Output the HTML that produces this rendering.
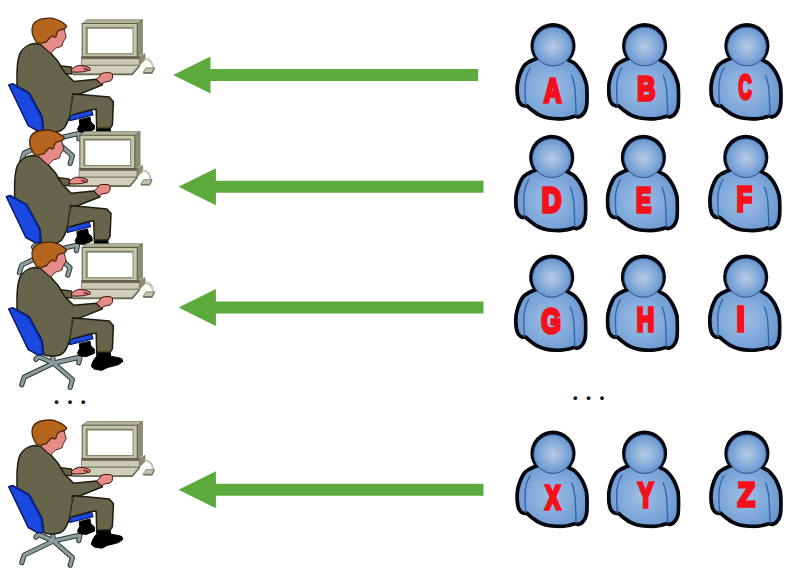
<!DOCTYPE html>
<html><head><meta charset="utf-8"><title>Users to operators</title>
<style>
html,body{margin:0;padding:0;background:#fff;}
body{width:800px;height:573px;overflow:hidden;position:relative;}
svg{position:absolute;left:0;top:0;display:block;}
.lt{font-family:"Liberation Sans",sans-serif;font-weight:bold;font-size:36px;fill:#f5101c;stroke:#f5101c;stroke-width:3.6px;stroke-linejoin:miter;}
.dots{position:absolute;font-family:"Liberation Serif",serif;font-size:32px;line-height:32px;color:#111;letter-spacing:5.4px;white-space:nowrap;}
</style></head>
<body>
<svg width="800" height="573" viewBox="0 0 800 573">
<defs>
<radialGradient id="gh" cx="0.5" cy="0.5" r="0.55"><stop offset="0" stop-color="#b8cae6"/><stop offset="0.5" stop-color="#8cafdb"/><stop offset="1" stop-color="#6092cc"/></radialGradient>
<radialGradient id="gb" cx="0.48" cy="0.55" r="0.6"><stop offset="0" stop-color="#a0bfe5"/><stop offset="0.55" stop-color="#7da7d9"/><stop offset="1" stop-color="#5d8fcb"/></radialGradient>

<g id="man" stroke-linejoin="round" stroke-linecap="round">
  <!-- chair base -->
  <g fill="none" stroke="#2e3838" stroke-width="5.2">
    <path d="M53.5,541 L24.2,555 L21.8,562.6"/><path d="M53.5,541 L72.4,557.5 L70.2,565.2"/>
    <path d="M53.5,541 L80,535 L78.8,540.6"/><path d="M53.5,541 L38.5,534.5 L35.8,537.2"/><path d="M52.3,532 L53.5,541"/>
  </g>
  <g fill="none" stroke="#8c9d9d" stroke-width="3.2">
    <path d="M53.5,541 L24.2,555 L21.8,562.6"/><path d="M53.5,541 L72.4,557.5 L70.2,565.2"/>
    <path d="M53.5,541 L80,535 L78.8,540.6"/><path d="M53.5,541 L38.5,534.5 L35.8,537.2"/><path d="M52.3,532 L53.5,541"/>
  </g>
  <!-- far leg + shoe -->
  <path d="M79.6,521.5 L90,519 L90.8,523.8 L94.3,526.8 L94.6,531 L86.2,534.5 L78.9,533.5 L77.5,530.9 L79.6,526.6 Z" fill="#000" stroke="#000" stroke-width="1"/>
  <!-- seat -->
  <path d="M68.4,517.3 L91.5,511.9 L93,516.6 L69.9,522.5 Z" fill="#1c48e2" stroke="#07186a" stroke-width="1.2"/>
  <!-- near shoe -->
  <path d="M96.7,531 L110.3,530 L110.5,534 C115,535 120,535.6 121.8,536.6 L122.9,539.25 L118.7,542.4 C114,544 110,544.6 107.2,545.5 L101.9,548.2 L94.6,547.1 L91.4,544.5 C92,540 94,537 96.7,534 Z" fill="#000" stroke="#000" stroke-width="1"/>
  <!-- torso + near arm -->
  <path d="M34.1,445.4 C29,446 23,449.5 20,455 C17.6,461 16.8,470 17,480 L17,488.3 L29,494.5 L42,518.5 L43.6,532.3 C45,533.2 47,533.7 48.4,533.7 C52,534 57,534 60,532.8 C63,531.5 64.8,529.5 65.7,527.5 C67,525 68,523 68.6,520.8 L70.5,517 C71.5,510 72,503 72.2,499.6 L73.6,496.4 L80.6,495.5 L102.5,486.7 L96.4,481 L73.6,483.2 L67.5,477.1 L61.4,468.8 L57.9,463.1 L50.8,455 L48,452.7 L41,446.4 Z" fill="#66644a" stroke="#1c1c10" stroke-width="1.5"/>
  <!-- near leg -->
  <path d="M72.6,495.8 L86.2,496.8 L109.25,498.9 L113.4,503.6 L112.4,526.7 L110.3,529.8 L96.7,530.3 L96.15,511 L91.4,511.5 L70.3,517.2 Z" fill="#66644a" stroke="#1c1c10" stroke-width="1.5"/>
  <path d="M72.9,498 L71,515.6" fill="none" stroke="#66644a" stroke-width="2.4"/>
  <path d="M73.6,496.4 C71.5,503 71.5,510 69.5,517.5" fill="none" stroke="#1c1c10" stroke-width="0.9"/>
  <!-- chair back -->
  <path d="M8.7,486.8 L12.6,485.5 L29.1,494.6 L42,518.5 L43.6,532.3 L37.9,532.8 L28.25,527.5 Z" fill="#1c48e2" stroke="#07186a" stroke-width="1.5"/>
  <path d="M12.6,485.5 L29.1,494.6 L42,518.5 L43.6,532.3 L41.9,532.5 L40.6,519.2 L28,495.8 L11,486.2 Z" fill="#0b2a9c" stroke="none"/>
  <!-- far arm -->
  <path d="M60.5,467.6 L71,468.8 L71.9,469.7 L71.9,475.8 L68.8,475.4 L65.5,475.6 Z" fill="#66644a" stroke="#1c1c10" stroke-width="1.3"/>
  <!-- computer -->
  <path d="M82,467 L139.4,467 L131.9,475.6 L72.5,475.6 Z" fill="#cfcfba" stroke="#6a6a52" stroke-width="0.8"/>
  <path d="M72.5,475.6 L131.9,475.6 L139.4,467 L140.6,467.6 L132.6,477 L72.5,477 Z" fill="#6a6a52" stroke="none"/>
  <path d="M139.4,458.5 L145,455.5 L145,461.5 L139.4,467 Z" fill="#8e8e76" stroke="#6a6a52" stroke-width="0.6"/>
  <rect x="81.9" y="458.5" width="57.5" height="8.5" fill="#cacab4" stroke="#6a6a52" stroke-width="0.8"/>
  <rect x="81.9" y="458.3" width="57.5" height="2.6" fill="#6a6a52"/>
  <path d="M82.25,425.25 L86.9,421.5 L142.5,421.5 L137.25,425.25 Z" fill="#b2b29a" stroke="#6a6a52" stroke-width="0.6"/>
  <path d="M137.25,425.25 L142.5,421.5 L142.5,455.6 L137.25,458.5 Z" fill="#8e8e76" stroke="#6a6a52" stroke-width="0.6"/>
  <rect x="82.25" y="425.25" width="55" height="33.25" fill="#c6c6ae" stroke="#5e5e48" stroke-width="1.1"/>
  <rect x="85.6" y="428.6" width="47.9" height="27.6" fill="#85856b"/>
  <rect x="87.75" y="430.6" width="44.75" height="24.4" fill="#fff"/>
  <!-- mouse + cable -->
  <path d="M145.4,460.4 Q152.2,461.5 153,469.5" fill="none" stroke="#aaaa98" stroke-width="1.9"/>
  <path d="M145.4,460.4 Q152.2,461.5 153,469.5" fill="none" stroke="#e6e6da" stroke-width="0.8"/>
  <path d="M146.25,469.75 L154.4,469.75 L151.9,474.4 L143.5,474.4 Z" fill="#c4c4ae" stroke="#6a6a52" stroke-width="0.8"/>
  <path d="M143.5,474.4 L151.9,474.4 L154.4,469.75 L154.6,471 L152.2,475.6 L143.6,475.6 Z" fill="#5e5e48"/>
  <!-- far hand -->
  <path d="M71.9,471 L75,468.6 L78.9,467.1 L85,467.9 L89.8,469.7 L90.2,471.9 L87.5,472.6 L83.2,473.6 L76.2,474 L71.9,473.6 Z" fill="#e68c86" stroke="#3a1410" stroke-width="1"/>
  <path d="M84,470.4 L87.6,471.4" fill="none" stroke="#7a1010" stroke-width="1.2"/>
  <!-- near fist -->
  <path d="M96.8,480.8 L99.9,478 L100.7,475.8 L104.2,474.5 L110.4,474.5 L112.5,476.2 L112.3,480.6 L110.4,482.8 L104.2,484.1 L101.6,485.8 Z" fill="#e68c86" stroke="#3a1410" stroke-width="1"/>
  <!-- face/neck -->
  <path d="M46,440 L57,432 L64.1,430.7 L65.2,435.25 L66.2,438.7 L64.5,441.5 L63,444.3 L62,447.8 L58.5,449.2 L55.7,449.9 L52.9,452.7 L50.8,455 L48,452.7 L41,446.4 L42.5,444 Z" fill="#e68c86" stroke="#3a1410" stroke-width="0.9"/>
  <!-- hair -->
  <path d="M32,431 C32.3,427 34.5,424 37,422.6 C40,420.8 45,420 49.4,420 C52,420 54.5,420.6 56.4,421.3 C59,422.2 61,423.3 62.7,424.4 L66.5,427.6 L66.2,429 L64.1,430.7 L59.9,431.8 L57.8,433.2 L56.4,436 L56.1,438.4 L54.3,439.1 L52.9,437.7 L50.8,438.7 L48,441.5 L46.6,443.6 L42.5,444.7 L36.9,445 L34.1,440.1 L32.3,435.25 Z" fill="#b5651e" stroke="#4a2808" stroke-width="1.3"/>
</g>


<clipPath id="cb"><path d="M-19.6,34.7 C-20.67,35.23 -24.18,36.70 -26.00,37.90 C-27.82,39.10 -29.23,40.27 -30.50,41.90 C-31.77,43.53 -32.72,45.77 -33.60,47.70 C-34.48,49.63 -35.18,51.45 -35.80,53.50 C-36.42,55.55 -36.98,57.83 -37.30,60.00 C-37.62,62.17 -37.72,64.23 -37.70,66.50 C-37.68,68.77 -37.53,71.48 -37.20,73.60 C-36.87,75.72 -36.42,77.65 -35.70,79.20 C-34.98,80.75 -33.95,82.02 -32.90,82.90 C-31.85,83.78 -30.38,84.27 -29.40,84.50 C-28.42,84.73 -27.40,84.33 -27.00,84.30 C-26.00,85.13 -23.06,87.78 -21.00,89.30 C-18.94,90.82 -17.17,92.20 -14.65,93.40 C-12.13,94.60 -9.26,95.78 -5.90,96.50 C-2.54,97.22 1.85,97.67 5.50,97.70 C9.15,97.73 13.17,97.17 16.00,96.70 C18.83,96.23 21.42,95.20 22.50,94.90 C23.02,95.02 24.35,95.82 25.60,95.60 C26.85,95.38 28.68,94.67 30.00,93.60 C31.32,92.53 32.60,90.95 33.50,89.20 C34.40,87.45 35.00,85.57 35.40,83.10 C35.80,80.62 35.85,77.20 35.90,74.35 C35.95,71.50 35.88,68.53 35.70,66.00 C35.52,63.48 35.65,62.08 34.80,59.20 C33.95,56.32 32.35,51.85 30.60,48.70 C28.85,45.55 26.47,42.42 24.30,40.30 C22.13,38.18 18.72,36.72 17.60,36.00 L11,32 L5,26 L-5,26 L-12,32 Z"/></clipPath>
<g id="user">
  <circle cx="0" cy="22.55" r="22.55" fill="#05070c"/>
  <path d="M-19.6,34.7 C-20.67,35.23 -24.18,36.70 -26.00,37.90 C-27.82,39.10 -29.23,40.27 -30.50,41.90 C-31.77,43.53 -32.72,45.77 -33.60,47.70 C-34.48,49.63 -35.18,51.45 -35.80,53.50 C-36.42,55.55 -36.98,57.83 -37.30,60.00 C-37.62,62.17 -37.72,64.23 -37.70,66.50 C-37.68,68.77 -37.53,71.48 -37.20,73.60 C-36.87,75.72 -36.42,77.65 -35.70,79.20 C-34.98,80.75 -33.95,82.02 -32.90,82.90 C-31.85,83.78 -30.38,84.27 -29.40,84.50 C-28.42,84.73 -27.40,84.33 -27.00,84.30 C-26.00,85.13 -23.06,87.78 -21.00,89.30 C-18.94,90.82 -17.17,92.20 -14.65,93.40 C-12.13,94.60 -9.26,95.78 -5.90,96.50 C-2.54,97.22 1.85,97.67 5.50,97.70 C9.15,97.73 13.17,97.17 16.00,96.70 C18.83,96.23 21.42,95.20 22.50,94.90 C23.02,95.02 24.35,95.82 25.60,95.60 C26.85,95.38 28.68,94.67 30.00,93.60 C31.32,92.53 32.60,90.95 33.50,89.20 C34.40,87.45 35.00,85.57 35.40,83.10 C35.80,80.62 35.85,77.20 35.90,74.35 C35.95,71.50 35.88,68.53 35.70,66.00 C35.52,63.48 35.65,62.08 34.80,59.20 C33.95,56.32 32.35,51.85 30.60,48.70 C28.85,45.55 26.47,42.42 24.30,40.30 C22.13,38.18 18.72,36.72 17.60,36.00 L11,32 L5,26 L-5,26 L-12,32 Z" fill="url(#gb)" stroke="#05070c" stroke-width="7.4" stroke-linejoin="round" clip-path="url(#cb)"/>
  <path d="M -22.6,44.4 C -26,50 -28,58 -28,64.4 C -28,72 -27.6,78 -27.2,82.5" fill="none" stroke="#3564ac" stroke-width="1.4"/>
  <path d="M 18.5,51.9 C 21,58 22,64 22.3,70.65 C 22.8,80 23,86 23,92.6" fill="none" stroke="#3564ac" stroke-width="1.4"/>
  <circle cx="0" cy="23.4" r="19.4" fill="url(#gh)" stroke="#1f3c78" stroke-width="0.8"/>
</g>

</defs>
<use href="#man" x="0" y="-401.8"/>
<use href="#man" x="-2.4" y="-290"/>
<use href="#man" x="0" y="-177.85"/>
<use href="#man" x="0" y="0"/>
<path d="M173.1,74.9 l37.4,-18.5 v12.5 h267.6 v12 h-267.6 v12.5 z" fill="#5caa3b"/>
<path d="M178.5,186.8 l37.4,-18.5 v12.5 h267.6 v12 h-267.6 v12.5 z" fill="#5caa3b"/>
<path d="M178.5,307.4 l37.4,-18.5 v12.5 h267.6 v12 h-267.6 v12.5 z" fill="#5caa3b"/>
<path d="M178.5,489.8 l37.4,-18.5 v12.5 h267.6 v12 h-267.6 v12.5 z" fill="#5caa3b"/>

<use href="#user" x="553" y="23.1"/>
<use href="#user" x="644.6" y="23.1"/>
<use href="#user" x="746.9" y="23.1"/>
<use href="#user" x="551.7" y="134.75"/>
<use href="#user" x="643.4" y="134.75"/>
<use href="#user" x="745.8" y="134.75"/>
<use href="#user" x="551.7" y="254.4"/>
<use href="#user" x="643.4" y="254.4"/>
<use href="#user" x="745.7" y="254.4"/>
<use href="#user" x="553" y="430.6"/>
<use href="#user" x="644.6" y="430.6"/>
<use href="#user" x="746.9" y="430.6"/>

<text transform="translate(552.80,102.36) scale(0.6690,0.9345)" text-anchor="middle" class="lt">A</text>
<text transform="translate(646.34,99.95) scale(0.6990,0.9416)" text-anchor="middle" class="lt">B</text>
<text transform="translate(745.15,99.07) scale(0.5091,0.9655)" text-anchor="middle" class="lt">C</text>
<text transform="translate(551.57,212.23) scale(0.7573,0.9558)" text-anchor="middle" class="lt">D</text>
<text transform="translate(643.63,212.19) scale(0.6375,0.9788)" text-anchor="middle" class="lt">E</text>
<text transform="translate(744.40,210.54) scale(0.6955,0.9788)" text-anchor="middle" class="lt">F</text>
<text transform="translate(551.11,332.88) scale(0.7027,0.9862)" text-anchor="middle" class="lt">G</text>
<text transform="translate(645.45,331.25) scale(0.6760,0.9434)" text-anchor="middle" class="lt">H</text>
<text transform="translate(740.67,330.54) scale(0.7944,0.9788)" text-anchor="middle" class="lt">I</text>
<text transform="translate(552.90,508.85) scale(0.6336,0.9434)" text-anchor="middle" class="lt">X</text>
<text transform="translate(645.60,507.23) scale(0.6414,0.9558)" text-anchor="middle" class="lt">Y</text>
<text transform="translate(746.35,506.25) scale(0.7872,0.9434)" text-anchor="middle" class="lt">Z</text>

</svg>
<div class="dots" style="left:52.5px;top:377px;">...</div>
<div class="dots" style="left:571.2px;top:373.1px;">...</div>
</body></html>
